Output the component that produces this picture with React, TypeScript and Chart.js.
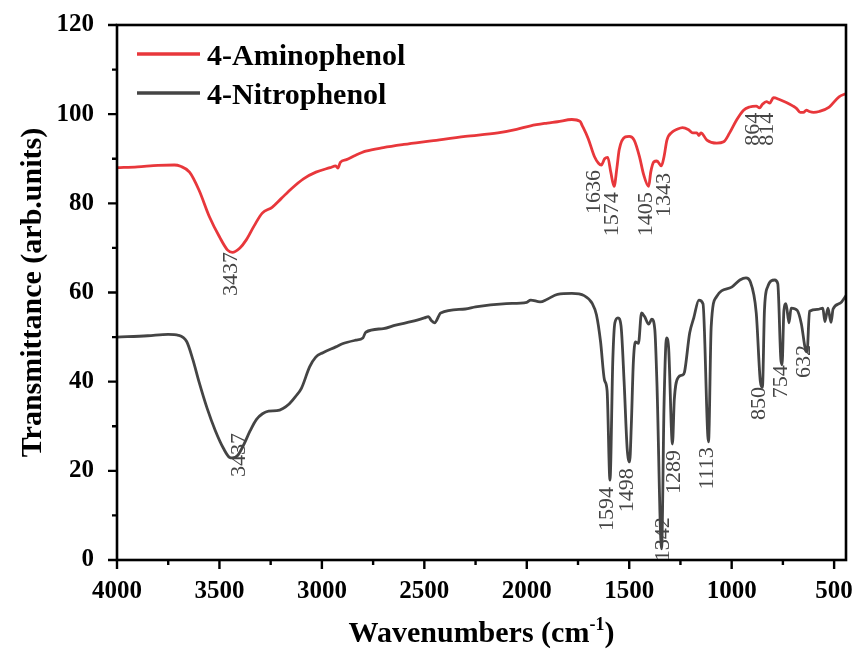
import React, { useEffect, useRef } from "react";
import { Chart, registerables } from "chart.js";

Chart.register(...registerables);

// ---- Data ----
const seriesNames = ["4-Aminophenol", "4-Nitrophenol"];
const seriesColors = ["#e8373b", "#444444"];

const aminoWavenumbers = [
  4000, 3900, 3800, 3720, 3690, 3646, 3600, 3549, 3500, 3460, 3437, 3400, 3369, 3330, 3291, 3243, 3200, 3146, 3090,
  3029, 2960, 2932, 2922, 2910, 2880, 2835, 2786, 2700, 2600, 2466, 2300, 2141, 2050, 1981, 1900, 1850, 1780, 1740,
  1730, 1700, 1670, 1650, 1636, 1620, 1605, 1590, 1574, 1560, 1549, 1519, 1500, 1476, 1450, 1430, 1405, 1395, 1380,
  1365, 1343, 1330, 1316, 1290, 1267, 1240, 1210, 1190, 1170, 1160, 1150, 1121, 1073, 1039, 1010, 976, 942, 913, 880,
  864, 850, 830, 814, 796, 767, 733, 700, 684, 665, 650, 635, 621, 600, 573, 524, 476, 442,
];
const aminoTransmittance = [
  88.0, 88.2, 88.5, 88.6, 88.3, 87.0, 83.0, 77.0, 72.5, 69.5, 69.0, 70.0, 71.8, 75.0, 77.8, 79.1, 81.0, 83.4, 85.5,
  87.0, 88.0, 88.4, 87.9, 89.2, 89.8, 90.8, 91.7, 92.5, 93.2, 94.0, 95.0, 95.8, 96.6, 97.4, 98.0, 98.3, 98.8, 98.4,
  97.5, 94.5, 90.5, 89.0, 88.6, 90.0, 90.3, 87.0, 83.8, 88.0, 92.0, 94.9, 95.0, 94.2, 90.5, 86.5, 83.8, 87.0, 89.3,
  89.5, 88.4, 90.5, 94.2, 96.0, 96.6, 97.0, 96.5, 95.8, 95.8, 95.2, 95.8, 94.2, 93.5, 93.8, 95.8, 98.7, 100.9, 101.6,
  101.8, 101.4, 102.2, 102.8, 102.5, 103.7, 103.3, 102.6, 101.8, 101.3, 100.4, 100.4, 100.9, 100.6, 100.4, 100.6,
  101.6, 103.9, 104.6,
];

const nitroWavenumbers = [
  4000, 3850, 3750, 3700, 3660, 3630, 3600, 3560, 3520, 3480, 3450, 3437, 3410, 3380, 3350, 3320, 3290, 3260, 3220,
  3190, 3160, 3130, 3100, 3060, 3030, 2995, 2932, 2900, 2835, 2800, 2786, 2700, 2640, 2560, 2500, 2480, 2466, 2450,
  2420, 2300, 2250, 2100, 2000, 1981, 1935, 1900, 1850, 1780, 1720, 1680, 1660, 1640, 1621, 1608, 1594, 1580, 1570,
  1555, 1540, 1525, 1510, 1498, 1490, 1480, 1470, 1455, 1440, 1425, 1405, 1390, 1375, 1365, 1342, 1330, 1318, 1308,
  1289, 1280, 1260, 1240, 1230, 1205, 1185, 1160, 1140, 1113, 1100, 1075, 1000, 960, 930, 910, 880, 860, 850, 840,
  825, 790, 775, 760, 754, 745, 735, 720, 710, 680, 660, 640, 632, 620, 580, 555, 545, 530, 515, 505, 470, 442,
];
const nitroTransmittance = [
  50.0, 50.3, 50.6, 50.4, 49.0, 45.0, 40.0, 34.0, 29.0, 25.0, 23.0, 22.9, 23.5, 26.0, 29.0, 31.5, 32.8, 33.4, 33.5,
  34.0, 35.0, 36.6, 38.5, 43.3, 45.5, 46.5, 47.8, 48.5, 49.3, 49.8, 51.1, 51.9, 52.7, 53.5, 54.3, 54.6, 53.7, 53.2,
  55.4, 56.3, 56.8, 57.5, 57.8, 58.3, 57.9, 58.5, 59.6, 59.8, 59.3, 57.5, 55.0, 49.0, 40.4, 38.0, 17.9, 45.0, 53.2,
  54.3, 52.5, 40.0, 25.0, 22.0, 30.0, 44.2, 48.9, 48.6, 55.4, 54.6, 52.9, 54.0, 51.6, 40.0, 2.5, 35.0, 49.8, 47.8,
  26.0, 36.0, 41.0, 41.5, 42.2, 50.9, 54.3, 58.3, 57.5, 26.5, 52.3, 59.0, 61.2, 62.8, 63.3, 62.5, 55.4, 40.0, 38.7,
  56.0, 61.2, 62.8, 62.0, 45.0, 43.8, 56.0, 57.5, 53.2, 56.5, 56.0, 53.0, 47.2, 46.7, 55.8, 56.2, 56.5, 53.5, 56.5,
  53.3, 56.3, 57.6, 59.3,
];

const xTickValues = [4000, 3500, 3000, 2500, 2000, 1500, 1000, 500];
const yTickValues = [0, 20, 40, 60, 80, 100, 120];

const aminoPeakLabels = ["3437", "1636", "1574", "1405", "1343", "864", "814"];
const aminoPeakX = [3442, 1670, 1583, 1417, 1330, 893, 825];
const aminoPeakY = [69.1, 87.5, 82.5, 82.5, 86.8, 100.3, 100.3];

const nitroPeakLabels = ["3437", "1594", "1498", "1342", "1289", "1113", "850", "754", "632"];
const nitroPeakX = [3403, 1607, 1510, 1335, 1282, 1121, 864, 757, 646];
const nitroPeakY = [28.5, 16.4, 20.6, 9.6, 24.7, 25.3, 38.8, 43.7, 48.2];

const FONT = "'Liberation Serif', 'Times New Roman', serif";

const toPoints = (xs: number[], ys: number[]) => xs.map((x, i) => ({ x, y: ys[i] }));

const framePlugin = {
  id: "frameTicks",
  afterDraw(chart: any) {
    const { ctx, chartArea, scales } = chart;
    const { left, right, top, bottom } = chartArea;
    const xs = scales.x;
    const ys = scales.y;
    ctx.save();
    ctx.strokeStyle = "#000";
    ctx.lineWidth = 2.6;
    ctx.strokeRect(left, top, right - left, bottom - top);
    ctx.lineWidth = 2.4;
    ctx.beginPath();
    xTickValues.forEach((v, i) => {
      const px = xs.getPixelForValue(v);
      ctx.moveTo(px, bottom);
      ctx.lineTo(px, bottom + 9);
      if (i < xTickValues.length - 1) {
        const m = xs.getPixelForValue((v + xTickValues[i + 1]) / 2);
        ctx.moveTo(m, bottom);
        ctx.lineTo(m, bottom + 5);
      }
    });
    yTickValues.forEach((v, i) => {
      const py = ys.getPixelForValue(v);
      ctx.moveTo(left, py);
      ctx.lineTo(left - 9, py);
      if (i < yTickValues.length - 1) {
        const m = ys.getPixelForValue((v + yTickValues[i + 1]) / 2);
        ctx.moveTo(left, m);
        ctx.lineTo(left - 5, m);
      }
    });
    ctx.stroke();

    // x axis title with superscript
    ctx.fillStyle = "#000";
    ctx.textBaseline = "alphabetic";
    const main = "Wavenumbers (cm";
    const sup = "-1";
    const close = ")";
    ctx.font = `bold 30px ${FONT}`;
    const wMain = ctx.measureText(main).width;
    const wClose = ctx.measureText(close).width;
    ctx.font = `bold 18px ${FONT}`;
    const wSup = ctx.measureText(sup).width;
    const total = wMain + wSup + wClose;
    const cx = (left + right) / 2;
    let sx = cx - total / 2;
    const base = 642;
    ctx.font = `bold 30px ${FONT}`;
    ctx.textAlign = "left";
    ctx.fillText(main, sx, base);
    sx += wMain;
    ctx.font = `bold 18px ${FONT}`;
    ctx.fillText(sup, sx, base - 12);
    sx += wSup;
    ctx.font = `bold 30px ${FONT}`;
    ctx.fillText(close, sx, base);

    // legend
    const legendYs = [top + 29, top + 68];
    seriesNames.forEach((name, i) => {
      ctx.strokeStyle = seriesColors[i];
      ctx.lineWidth = 3.5;
      ctx.beginPath();
      ctx.moveTo(left + 20, legendYs[i]);
      ctx.lineTo(left + 83, legendYs[i]);
      ctx.stroke();
      ctx.fillStyle = "#000";
      ctx.font = `bold 30px ${FONT}`;
      ctx.textAlign = "left";
      ctx.textBaseline = "alphabetic";
      ctx.fillText(name, left + 90, legendYs[i] + 11);
    });
    ctx.restore();
  },
  afterDatasetsDraw(chart: any) {
    const { ctx, scales } = chart;
    const xs = scales.x;
    const ys = scales.y;
    ctx.save();
    ctx.fillStyle = "#454545";
    ctx.font = `22px ${FONT}`;
    ctx.textAlign = "right";
    ctx.textBaseline = "middle";
    const draw = (labels: string[], px: number[], py: number[]) => {
      labels.forEach((t, i) => {
        const x = xs.getPixelForValue(px[i]);
        const y = ys.getPixelForValue(py[i]);
        ctx.save();
        ctx.translate(x, y);
        ctx.rotate(-Math.PI / 2);
        ctx.fillText(t, 0, 0);
        ctx.restore();
      });
    };
    draw(aminoPeakLabels, aminoPeakX, aminoPeakY);
    draw(nitroPeakLabels, nitroPeakX, nitroPeakY);
    ctx.restore();
  },
};

export default function App() {
  const canvasRef = useRef<HTMLCanvasElement | null>(null);

  useEffect(() => {
    document.body.style.margin = "0";
    const canvas = canvasRef.current;
    if (!canvas) return;
    const chart = new Chart(canvas, {
      type: "line",
      data: {
        datasets: [
          {
            label: seriesNames[0],
            data: toPoints(aminoWavenumbers, aminoTransmittance),
            borderColor: seriesColors[0],
            borderWidth: 2.8,
            pointRadius: 0,
            cubicInterpolationMode: "monotone",
            fill: false,
          },
          {
            label: seriesNames[1],
            data: toPoints(nitroWavenumbers, nitroTransmittance),
            borderColor: seriesColors[1],
            borderWidth: 2.8,
            pointRadius: 0,
            cubicInterpolationMode: "monotone",
            fill: false,
          },
        ],
      },
      options: {
        responsive: false,
        animation: false,
        parsing: false as any,
        layout: { padding: { top: 25, right: 12, left: 0, bottom: 0 } },
        plugins: {
          legend: { display: false },
          tooltip: { enabled: false },
        },
        scales: {
          x: {
            type: "linear",
            reverse: true,
            min: 442,
            max: 4000,
            grid: { display: false },
            border: { display: false },
            afterBuildTicks: (scale: any) => {
              scale.ticks = xTickValues.map((v) => ({ value: v }));
            },
            afterFit: (scale: any) => {
              scale.height = 91;
              scale.paddingLeft = 0;
              scale.paddingRight = 0;
            },
            ticks: {
              autoSkip: false,
              maxRotation: 0,
              padding: 9,
              color: "#000",
              font: { family: FONT, size: 25, weight: "bold" },
              callback: (v: any) => String(v),
            },
          },
          y: {
            type: "linear",
            min: 0,
            max: 120,
            grid: { display: false },
            border: { display: false },
            afterBuildTicks: (scale: any) => {
              scale.ticks = yTickValues.map((v) => ({ value: v }));
            },
            afterFit: (scale: any) => {
              scale.width = 117;
              scale.paddingTop = 0;
              scale.paddingBottom = 0;
            },
            title: {
              display: true,
              text: "Transmittance (arb.units)",
              color: "#000",
              font: { family: FONT, size: 30, weight: "bold" },
              padding: { top: 15, bottom: 0 },
            },
            ticks: {
              autoSkip: false,
              padding: 15,
              color: "#000",
              font: { family: FONT, size: 25, weight: "bold" },
              callback: (v: any) => String(v),
            },
          },
        },
      },
      plugins: [framePlugin],
    });
    return () => chart.destroy();
  }, []);

  return (
    <div style={{ width: 858, height: 651, background: "#fff" }}>
      <canvas ref={canvasRef} width={858} height={651} style={{ display: "block", width: 858, height: 651 }} />
    </div>
  );
}
